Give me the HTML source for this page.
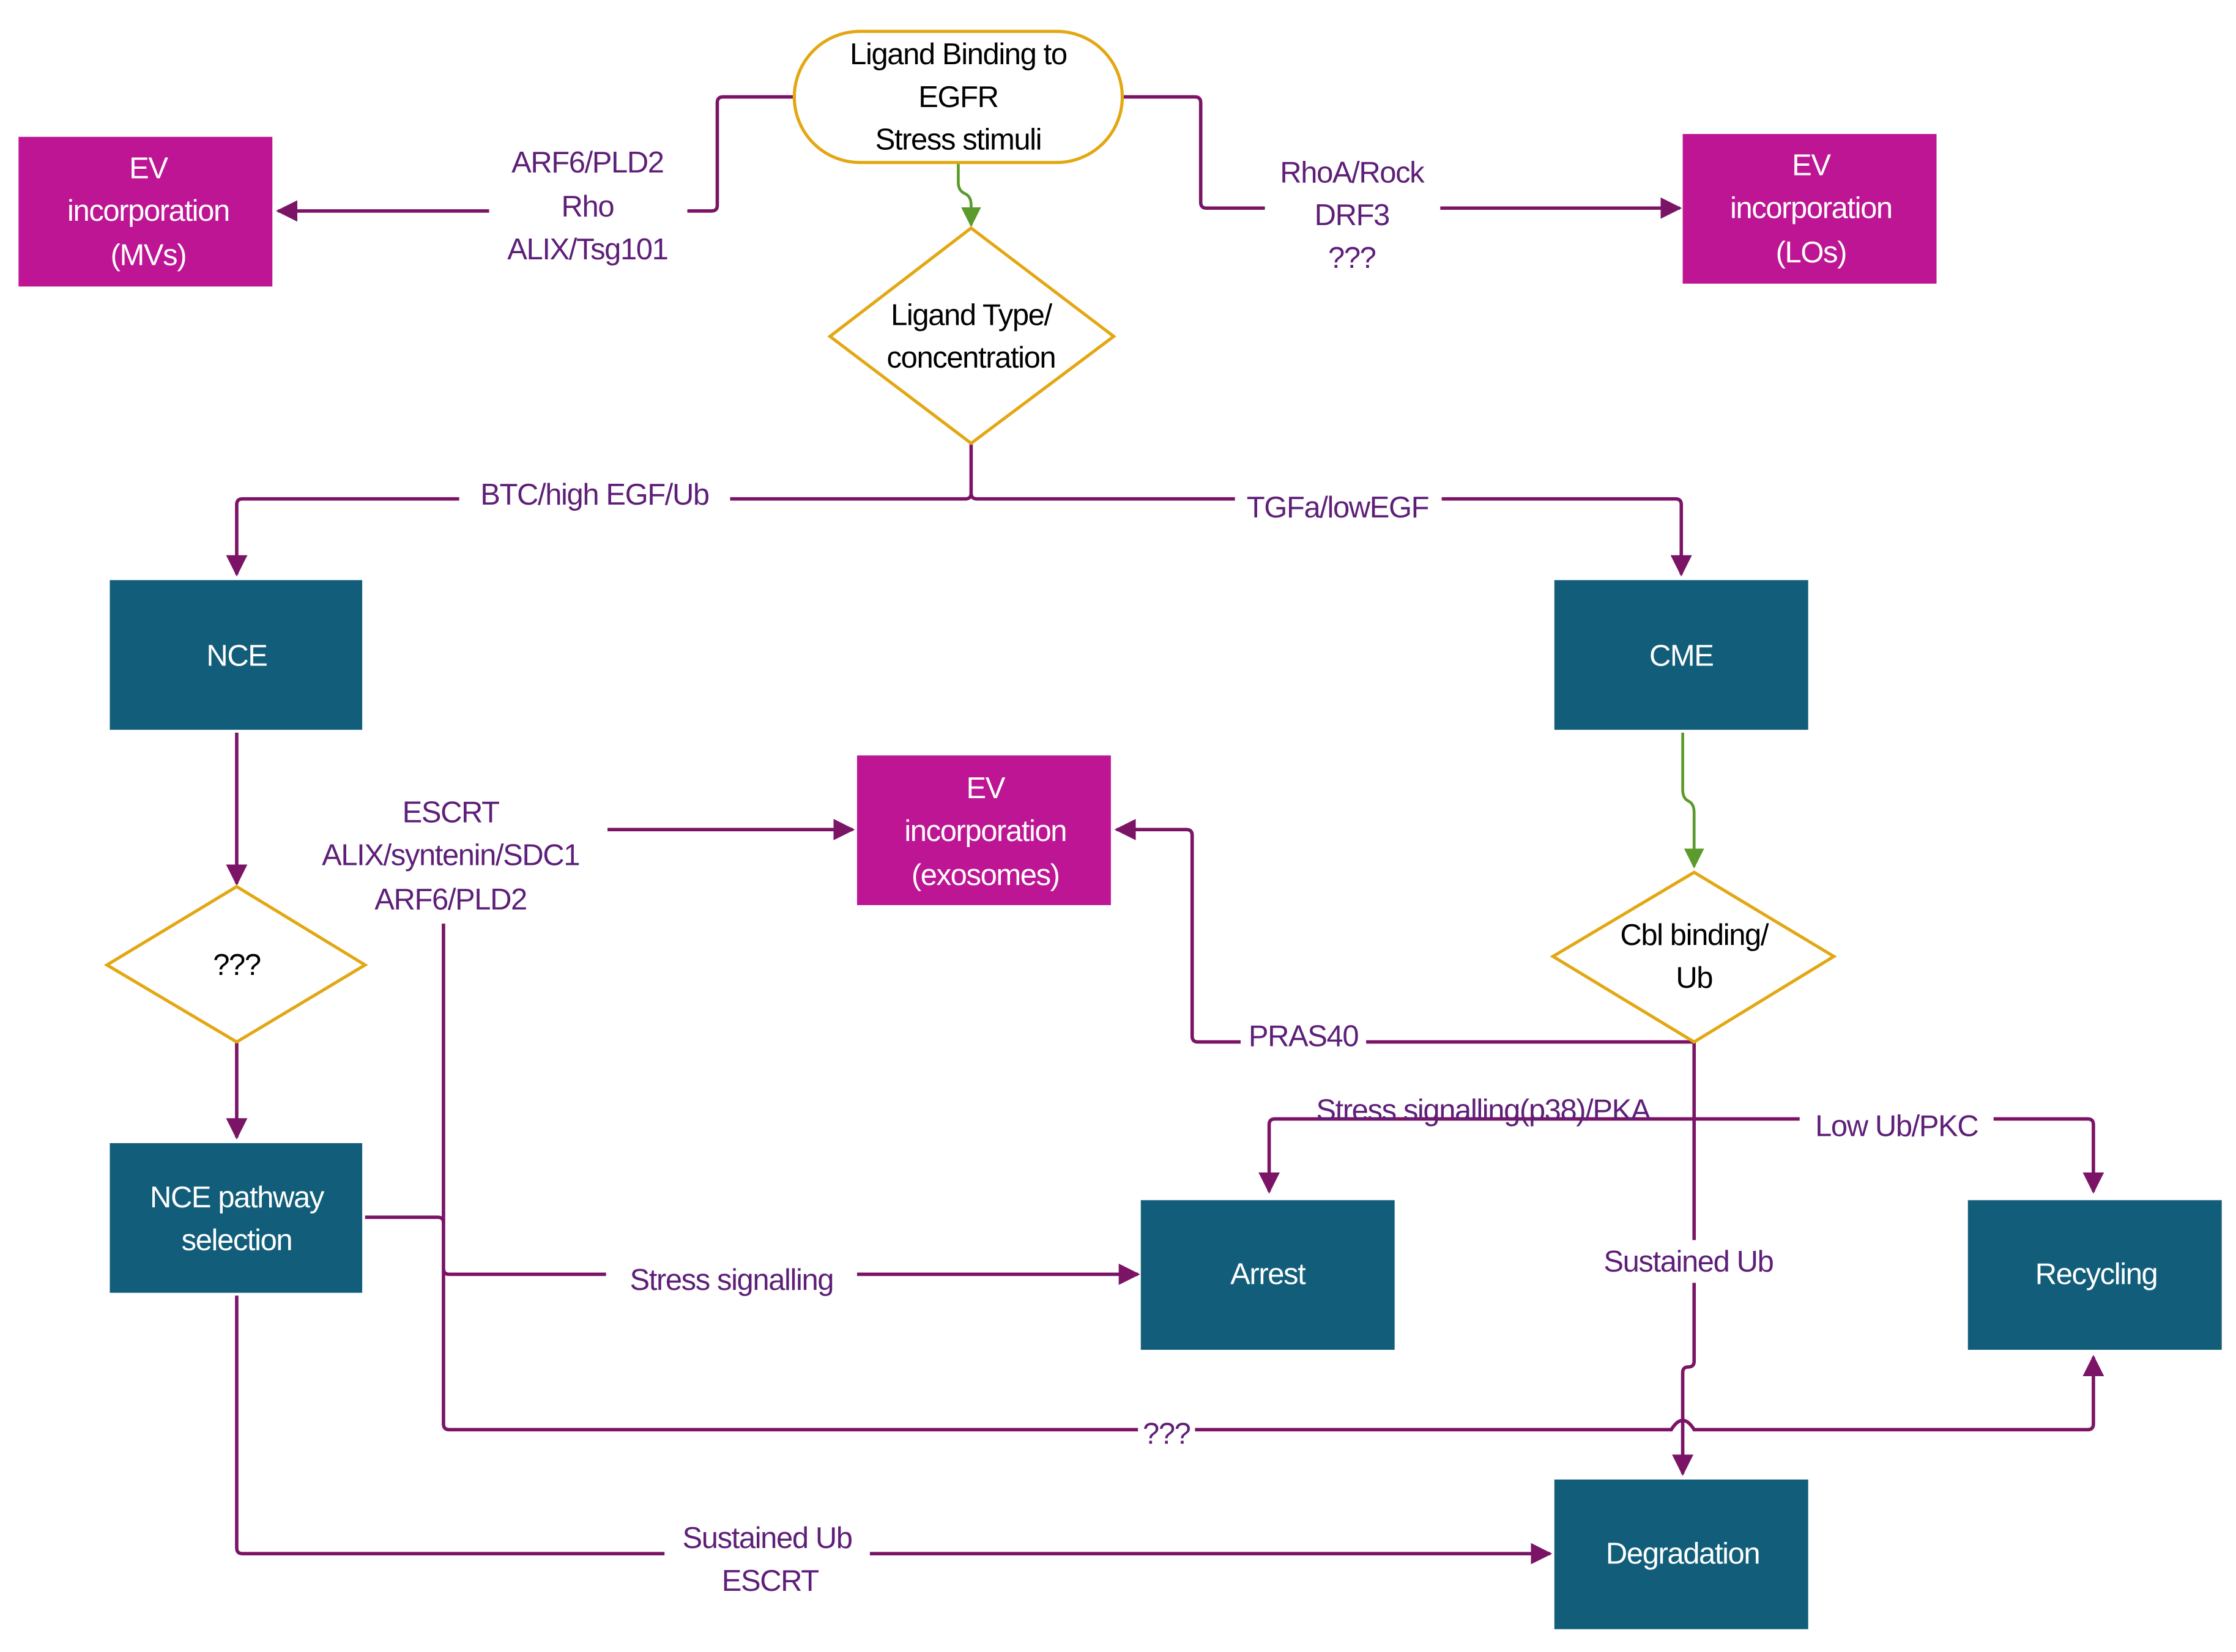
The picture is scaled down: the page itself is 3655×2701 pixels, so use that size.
<!DOCTYPE html>
<html><head><meta charset="utf-8"><style>
html,body{margin:0;padding:0;background:#fff;}
svg{display:block;}
text{font-family:"Liberation Sans Narrow","Liberation Sans",sans-serif;font-size:21px;letter-spacing:-0.6px;text-anchor:middle;}
.w{fill:#fff;}
.k{fill:#000;}
.p{fill:#5E1F78;}
.ln{fill:none;stroke:#7B1466;stroke-width:2.4;}
.g{fill:none;stroke:#5B9A2C;stroke-width:2;}
.box{fill:#125E7A;}
.mg{fill:#BD1593;}
.dm{fill:#fff;stroke:#E3A712;stroke-width:2.2;}
</style></head><body>
<svg width="3655" height="2701" viewBox="0 0 1568 1159" preserveAspectRatio="none" xmlns="http://www.w3.org/2000/svg">
<defs>
<marker id="a" viewBox="0 0 10 10" refX="9" refY="5" markerWidth="15" markerHeight="15" markerUnits="userSpaceOnUse" orient="auto"><path d="M0,0L10,5L0,10z" fill="#7B1466"/></marker>
<marker id="ga" viewBox="0 0 10 10" refX="9" refY="5" markerWidth="14" markerHeight="14" markerUnits="userSpaceOnUse" orient="auto"><path d="M0,0L10,5L0,10z" fill="#5B9A2C"/></marker>
</defs>

<path class="ln" d="M557,68 H507 Q503,68 503,72 V144 Q503,148 499,148 H482"/>
<path class="ln" d="M343,148 H195" style="marker-end:url(#a)"/>
<path class="ln" d="M787,68 H838 Q842,68 842,72 V142 Q842,146 846,146 H887"/>
<path class="ln" d="M1010,146 H1178" style="marker-end:url(#a)"/>
<path class="g" d="M672,114 V128 Q672,134 677,136 Q681,138 681,144 V158" style="marker-end:url(#ga)"/>
<path class="ln" d="M681,311 V346 Q681,350 677,350 H170 Q166,350 166,354 V403" style="marker-end:url(#a)"/>
<path class="ln" d="M681,346 Q681,350 685,350 H1175 Q1179,350 1179,354 V403" style="marker-end:url(#a)"/>
<path class="ln" d="M166,514 V620" style="marker-end:url(#a)"/>
<path class="ln" d="M166,731 V798" style="marker-end:url(#a)"/>
<path class="ln" d="M426,582 H598" style="marker-end:url(#a)"/>
<path class="ln" d="M311,648 V999 Q311,1003 315,1003 H1172 Q1180,990 1188,1003 H1464 Q1468,1003 1468,999 V952" style="marker-end:url(#a)"/>
<path class="ln" d="M256,854 H307 Q311,854 311,858"/>
<path class="ln" d="M311,890 Q311,894 315,894 H798" style="marker-end:url(#a)"/>
<path class="ln" d="M166,909 V1086 Q166,1090 170,1090 H1087" style="marker-end:url(#a)"/>
<path class="g" d="M1180,514 V554 Q1180,560 1184,562 Q1188,564 1188,570 V608" style="marker-end:url(#ga)"/>
<path class="ln" d="M1188,731 H840 Q836,731 836,727 V586 Q836,582 832,582 H783" style="marker-end:url(#a)"/>
<path class="ln" d="M1188,731 V870"/>
<path class="ln" d="M1188,900 V955 Q1188,959 1184,959 Q1180,959 1180,963 V1034" style="marker-end:url(#a)"/>
<path class="ln" d="M1188,785 H894 Q890,785 890,789 V836" style="marker-end:url(#a)"/>
<path class="ln" d="M1188,785 H1464 Q1468,785 1468,789 V836" style="marker-end:url(#a)"/>

<rect x="557" y="22" width="230" height="92" rx="46" ry="46" fill="#fff" stroke="#E3A712" stroke-width="2.2"/>
<text class="k" x="672" y="45">Ligand Binding to</text>
<text class="k" x="672" y="75">EGFR</text>
<text class="k" x="672" y="105">Stress stimuli</text>

<rect class="mg" x="13" y="96" width="178" height="105"/>
<text class="w" x="104" y="125">EV</text>
<text class="w" x="104" y="155">incorporation</text>
<text class="w" x="104" y="186">(MVs)</text>

<rect class="mg" x="1180" y="94" width="178" height="105"/>
<text class="w" x="1270" y="123">EV</text>
<text class="w" x="1270" y="153">incorporation</text>
<text class="w" x="1270" y="184">(LOs)</text>

<polygon class="dm" points="681,160 781,236 681,311 582,236"/>
<text class="k" x="681" y="228">Ligand Type/</text>
<text class="k" x="681" y="258">concentration</text>

<rect class="box" x="77" y="407" width="177" height="105"/>
<text class="w" x="166" y="467">NCE</text>
<rect class="box" x="1090" y="407" width="178" height="105"/>
<text class="w" x="1179" y="467">CME</text>

<polygon class="dm" points="166,622 256,677 166,731 75,677"/>
<text class="k" x="166" y="684">???</text>

<rect class="box" x="77" y="802" width="177" height="105"/>
<text class="w" x="166" y="847">NCE pathway</text>
<text class="w" x="166" y="877">selection</text>

<rect class="mg" x="601" y="530" width="178" height="105"/>
<text class="w" x="691" y="560">EV</text>
<text class="w" x="691" y="590">incorporation</text>
<text class="w" x="691" y="621">(exosomes)</text>

<polygon class="dm" points="1188,612 1286,671 1188,731 1089,671"/>
<text class="k" x="1188" y="663">Cbl binding/</text>
<text class="k" x="1188" y="693">Ub</text>

<rect class="box" x="800" y="842" width="178" height="105"/>
<text class="w" x="889" y="901">Arrest</text>
<rect class="box" x="1380" y="842" width="178" height="105"/>
<text class="w" x="1470" y="901">Recycling</text>
<rect class="box" x="1090" y="1038" width="178" height="105"/>
<text class="w" x="1180" y="1097">Degradation</text>

<text class="p" x="412" y="121">ARF6/PLD2</text>
<text class="p" x="412" y="152">Rho</text>
<text class="p" x="412" y="182">ALIX/Tsg101</text>
<text class="p" x="948" y="128">RhoA/Rock</text>
<text class="p" x="948" y="158">DRF3</text>
<text class="p" x="948" y="188">???</text>
<rect x="322" y="336" width="190" height="20" fill="#fff"/>
<text class="p" x="417" y="354">BTC/high EGF/Ub</text>
<rect x="866" y="342" width="145" height="20" fill="#fff"/>
<text class="p" x="938" y="363">TGFa/lowEGF</text>
<text class="p" x="316" y="577">ESCRT</text>
<text class="p" x="316" y="607">ALIX/syntenin/SDC1</text>
<text class="p" x="316" y="638">ARF6/PLD2</text>
<rect x="870" y="716" width="88" height="20" fill="#fff"/>
<text class="p" x="914" y="734">PRAS40</text>
<text class="p" x="1040" y="786">Stress signalling(p38)/PKA</text>
<rect x="1262" y="778" width="136" height="22" fill="#fff"/>
<text class="p" x="1330" y="797">Low Ub/PKC</text>
<text class="p" x="1184" y="892">Sustained Ub</text>
<rect x="425" y="884" width="176" height="22" fill="#fff"/>
<text class="p" x="513" y="905">Stress signalling</text>
<rect x="798" y="994" width="40" height="20" fill="#fff"/>
<text class="p" x="818" y="1013">???</text>
<rect x="466" y="1068" width="144" height="26" fill="#fff"/>
<text class="p" x="538" y="1086">Sustained Ub</text>
<text class="p" x="540" y="1116">ESCRT</text>
</svg>
</body></html>
